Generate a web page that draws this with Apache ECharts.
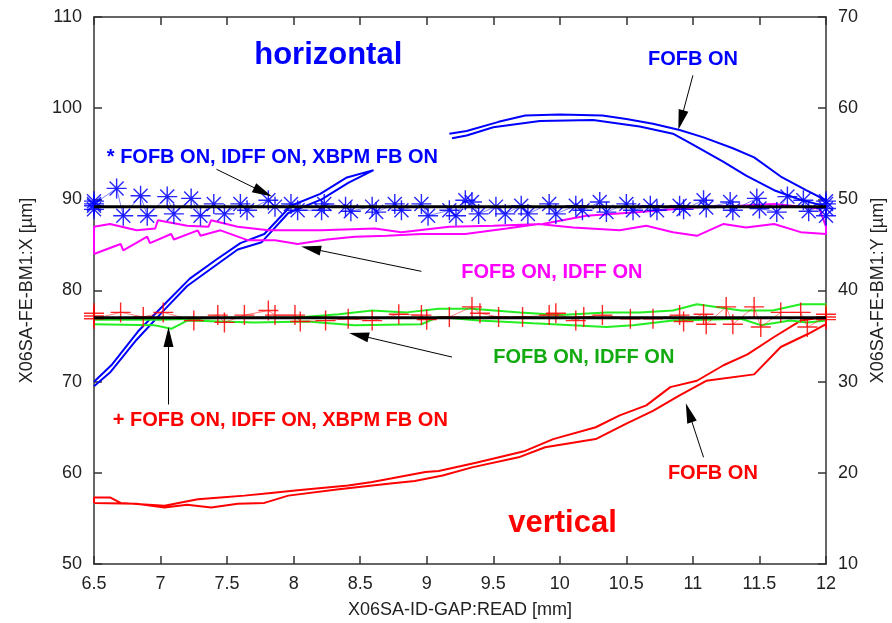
<!DOCTYPE html>
<html>
<head>
<meta charset="utf-8">
<script src="https://cdn.jsdelivr.net/npm/echarts@6/dist/echarts.min.js"></script>
<style>
  html, body { margin: 0; padding: 0; background: #fff; }
  #chart { width: 892px; height: 623px; }
</style>
</head>
<body>
<div id="chart"></div>
<script>
// horizontal plane (left axis, X [um])
const hFofbX = [6.5, 6.62, 6.82, 7.03, 7.2, 7.4, 7.58, 7.76, 7.96, 8.21, 8.41, 8.6,
  8.59, 8.4, 8.2, 7.98, 7.78, 7.6, 7.42, 7.22, 7.05, 6.83, 6.63, 6.5, null,
  9.17, 9.3, 9.54, 9.74, 10.0, 10.32, 10.5, 10.7, 10.9, 11.08, 11.3, 11.46, 11.66, 11.85, 12.0,
  12.0, 11.8, 11.61, 11.4, 11.23, 11.0, 10.85, 10.6, 10.25, 9.85, 9.5, 9.3, 9.19]
const hFofbY = [69.5, 71.0, 74.6, 77.9, 80.5, 82.6, 84.5, 85.3, 88.5, 90.0, 91.8, 93.2,
  93.1, 92.4, 90.6, 89.3, 86.2, 85.2, 83.4, 81.3, 78.8, 75.5, 71.8, 70.0, null,
  97.2, 97.5, 98.5, 99.2, 99.3, 99.2, 98.8, 98.3, 97.6, 96.8, 95.6, 94.6, 92.5, 91.0, 89.9,
  89.2, 90.0, 91.0, 92.6, 94.1, 96.0, 97.2, 98.0, 98.7, 98.6, 97.9, 97.0, 96.7]

const hIdffX = [6.5, 6.7, 6.72, 6.9, 6.92, 7.08, 7.1, 7.28, 7.3, 7.45, 7.66, 7.86, 8.03, 8.25,
  8.46, 8.7, 8.96, 9.29, 9.6, 9.84, 10.1, 10.45, 10.65, 10.85, 11.03, 11.23, 11.4, 11.61, 11.81, 12.0,
  12.0, 11.95, 11.61, 11.35, 11.1, 10.85, 10.6, 10.2, 9.87, 9.5, 9.17, 8.81, 8.61, 8.21, 7.81,
  7.58, 7.38, 7.36, 7.2, 6.98, 6.96, 6.82, 6.62, 6.5, 6.5]
const hIdffY = [84.0, 85.1, 84.4, 85.9, 85.2, 86.2, 85.6, 86.6, 86.0, 86.6, 85.5, 85.5, 85.1, 85.6,
  85.9, 86.0, 86.2, 86.2, 86.8, 87.3, 86.9, 86.6, 87.1, 86.4, 86.0, 87.3, 86.9, 87.3, 86.4, 86.2,
  87.0, 89.0, 89.5, 89.3, 89.2, 88.9, 88.6, 88.2, 87.3, 87.1, 87.0, 86.4, 86.8, 86.6, 86.6,
  87.0, 87.7, 87.0, 87.1, 87.7, 86.8, 86.6, 87.3, 87.0, 84.0]

const hXbpmX = [6.5, 6.5, 6.5, 6.5, 6.67, 6.72, 6.85, 6.9, 7.05, 7.1, 7.23, 7.3, 7.4, 7.48, 7.6, 7.65,
  7.81, 7.86, 7.98, 8.03, 8.21, 8.23, 8.39, 8.43, 8.59, 8.62, 8.76, 8.81, 8.96, 9.01, 9.17, 9.22,
  9.29, 9.34, 9.39, 9.52, 9.59, 9.71, 9.76, 9.92, 9.97, 10.12, 10.17, 10.3, 10.35, 10.5, 10.55,
  10.68, 10.73, 10.9, 10.93, 11.08, 11.1, 11.28, 11.3, 11.48, 11.5, 11.63, 11.71, 11.83, 11.87,
  12.0, 12.0, 12.0, 12.0]
const hXbpmY = [89.3, 89.8, 88.9, 89.5, 91.2, 88.2, 90.4, 88.2, 90.3, 88.4, 90.1, 88.2, 89.5, 88.4, 89.5, 88.8,
  89.9, 89.2, 89.5, 88.8, 88.8, 89.5, 89.2, 88.7, 89.2, 88.6, 89.5, 88.8, 89.5, 88.2, 88.8, 88.2,
  89.9, 89.7, 88.4, 89.2, 88.4, 89.3, 88.4, 89.5, 88.4, 89.3, 88.8, 89.7, 88.6, 89.5, 88.8,
  89.3, 88.8, 89.3, 88.9, 89.9, 89.1, 89.7, 88.8, 90.1, 89.0, 88.6, 90.3, 89.9, 88.7,
  89.5, 88.2, 89.0, 89.8]

// vertical plane (right axis, Y [um])
const vFofbX = [6.5, 6.82, 7.03, 7.2, 7.38, 7.58, 7.78, 7.96, 8.34, 8.71, 8.91, 9.12, 9.34, 9.69,
  9.89, 10.27, 10.5, 10.7, 10.9, 11.1, 11.46, 11.66, 11.86, 12.0,
  12.0, 11.81, 11.61, 11.41, 11.23, 11.03, 10.83, 10.65, 10.45, 10.27, 9.95, 9.74, 9.37, 9.09,
  8.99, 8.74, 8.59, 8.41, 8.03, 7.83, 7.63, 7.45, 7.28, 7.03, 6.7, 6.62, 6.5, 6.5]
const vFofbY = [16.7, 16.6, 16.2, 16.5, 16.2, 16.6, 16.7, 17.5, 18.2, 18.8, 19.1, 19.7, 20.6, 21.7,
  22.8, 23.7, 25.4, 26.8, 28.5, 30.1, 30.8, 33.8, 35.2, 36.3,
  37.1, 36.7, 34.9, 33.0, 31.8, 30.1, 29.4, 27.4, 26.3, 25.0, 23.7, 22.4, 21.1, 20.2,
  20.1, 19.4, 19.0, 18.6, 18.1, 17.8, 17.5, 17.3, 17.1, 16.4, 16.7, 17.3, 17.3, 16.7]

const vIdffX = [6.5, 6.95, 7.08, 7.2, 7.7, 8.1, 8.46, 8.96, 9.09, 9.39, 9.8, 10.35, 10.55, 10.85,
  11.1, 11.36, 11.51, 11.73, 11.86, 12.0,
  12.0, 11.81, 11.6, 11.36, 11.03, 10.85, 10.6, 10.35, 10.0, 9.7, 9.34, 9.29, 9.09, 8.85, 8.59,
  8.34, 8.0, 7.5, 7.0, 6.5]
const vIdffY = [36.3, 36.2, 35.8, 36.7, 36.5, 36.6, 36.2, 36.3, 37.1, 36.7, 36.4, 36.0, 36.2, 36.7,
  36.8, 36.9, 36.2, 36.7, 36.5, 36.7,
  38.5, 38.5, 37.8, 37.8, 38.5, 37.8, 37.6, 37.6, 37.3, 37.6, 38.0, 38.0, 38.0, 37.6, 37.8,
  37.4, 37.0, 37.0, 36.8, 36.8]

const vXbpmX = [6.5, 6.5, 6.5, 6.7, 6.87, 7.02, 7.25, 7.43, 7.48, 7.63, 7.81, 7.86, 8.01, 8.05, 8.24,
  8.41, 8.59, 8.79, 8.96, 9.0, 9.17, 9.34, 9.4, 9.54, 9.72, 9.92, 9.97, 10.12, 10.18, 10.32,
  10.53, 10.7, 10.9, 10.93, 11.08, 11.1, 11.25, 11.3, 11.46, 11.51, 11.66, 11.81, 11.86,
  12.0, 12.0, 12.0]
const vXbpmY = [37.2, 37.5, 36.9, 37.6, 37.1, 37.6, 36.7, 37.3, 36.5, 37.3, 37.8, 37.3, 37.3, 36.6, 36.7,
  36.9, 36.7, 37.4, 37.3, 36.8, 37.1, 38.2, 37.5, 37.1, 37.1, 37.3, 37.5, 36.7, 37.1, 37.3,
  36.9, 36.9, 37.3, 36.6, 37.4, 36.3, 38.2, 36.3, 38.2, 36.0, 37.6, 37.6, 36.0,
  37.1, 37.4, 36.8]

// reference (mean) lines
const refX = [6.5, 12]
const hRefY = [89.2, 89.2]
const vRefY = [37.0, 37.0]

// x ticks
const xMin = 6.5, xMax = 12, xStep = 0.5

// annotations (left axis units)
const noteText = ['horizontal', 'FOFB ON', '* FOFB ON, IDFF ON, XBPM FB ON', 'FOFB ON, IDFF ON',
  'FOFB ON, IDFF ON', '+ FOFB ON, IDFF ON, XBPM FB ON', 'FOFB ON', 'vertical']
const noteX = [8.26, 11.0, 7.84, 9.94, 10.18, 7.9, 11.15, 10.02]
const noteY = [105.8, 105.3, 94.6, 82.0, 72.6, 65.7, 59.9, 54.5]
const arrowFrom = [[11.0, 103.6], [7.42, 93.3], [8.96, 82.1], [9.19, 72.7], [7.06, 67.5], [11.08, 61.7]]
const arrowTo = [[10.91, 98.7], [7.77, 90.8], [8.13, 84.6], [8.49, 75.1], [7.06, 74.9], [10.97, 66.6]]

const BLUE = '#0000ff'
const RED = '#ff0000'
const MAGENTA = '#ff00ff'
const GREEN = '#22ee22'
const FONT = "'Liberation Sans', Arial, sans-serif"
const STAR = 'path://M10 0 L10 20 M0 10 L20 10 M3 3 L17 17 M3 17 L17 3'
const CROSS = 'path://M10 0 L10 20 M0 10 L20 10'

const noteColor = [BLUE, BLUE, BLUE, MAGENTA, '#11aa11', RED, RED, RED]
const noteSize = [31, 20, 20, 20, 20, 20, 20, 31]

function zip(xs, ys) {
  return xs.map((x, i) => (x === null ? [null, null] : [x, ys[i]]))
}

function curve(name, xs, ys, color, axis) {
  return {
    name, type: 'line', yAxisIndex: axis, data: zip(xs, ys),
    showSymbol: false, connectNulls: false,
    lineStyle: { color, width: 2 }, z: 3,
  }
}

function marks(name, xs, ys, color, axis, symbol) {
  return {
    name, type: 'line', yAxisIndex: axis, data: zip(xs, ys),
    symbol, symbolSize: 20, showSymbol: true, showAllSymbol: true,
    lineStyle: { color, width: 1, opacity: 0.5 },
    itemStyle: { color, borderColor: color, borderWidth: 1.4, opacity: 0.85 },
    z: 4,
  }
}

const axisLine = { show: true, lineStyle: { color: '#333', width: 1.5 } }
const axisTick = { show: true, inside: true, length: 8, lineStyle: { color: '#333', width: 1.5 } }
const axisLabel = { color: '#222', fontSize: 18, fontFamily: FONT }
const nameStyle = { color: '#222', fontSize: 18, fontFamily: FONT }

const chart = echarts.init(document.getElementById('chart'))
chart.setOption({
  animation: false,
  grid: { left: 94, right: 66, top: 17, bottom: 59, outerBoundsMode: 'none', containLabel: false },
  xAxis: [
    {
      type: 'value', min: xMin, max: xMax, interval: xStep, position: 'bottom',
      name: 'X06SA-ID-GAP:READ [mm]', nameLocation: 'middle', nameGap: 37, nameTextStyle: nameStyle,
      axisLine, axisTick, axisLabel: { ...axisLabel, margin: 11 }, splitLine: { show: false },
    },
    {
      type: 'value', min: xMin, max: xMax, interval: xStep, position: 'top',
      axisLine, axisTick, axisLabel: { show: false }, splitLine: { show: false },
    },
  ],
  yAxis: [
    {
      type: 'value', min: 50, max: 110, interval: 10, position: 'left',
      name: 'X06SA-FE-BM1:X [µm]', nameLocation: 'middle', nameGap: 58, nameTextStyle: nameStyle,
      axisLine, axisTick, axisLabel: { ...axisLabel, margin: 12 }, splitLine: { show: false },
    },
    {
      type: 'value', min: 10, max: 70, interval: 10, position: 'right',
      name: 'X06SA-FE-BM1:Y [µm]', nameLocation: 'middle', nameGap: 41, nameTextStyle: nameStyle,
      axisLine, axisTick, axisLabel: { ...axisLabel, margin: 12 }, splitLine: { show: false },
    },
  ],
  series: [
    curve('h FOFB', hFofbX, hFofbY, BLUE, 0),
    curve('h FOFB IDFF', hIdffX, hIdffY, MAGENTA, 0),
    curve('v FOFB', vFofbX, vFofbY, RED, 1),
    curve('v FOFB IDFF', vIdffX, vIdffY, GREEN, 1),
    marks('h XBPM', hXbpmX, hXbpmY, BLUE, 0, STAR),
    marks('v XBPM', vXbpmX, vXbpmY, RED, 1, CROSS),
    {
      name: 'h ref', type: 'line', yAxisIndex: 0, data: zip(refX, hRefY),
      showSymbol: false, lineStyle: { color: '#000', width: 3 }, z: 5,
    },
    {
      name: 'v ref', type: 'line', yAxisIndex: 1, data: zip(refX, vRefY),
      showSymbol: false, lineStyle: { color: '#000', width: 3 }, z: 5,
    },
    {
      name: 'notes', type: 'scatter', yAxisIndex: 0, symbolSize: 0, silent: true, z: 6,
      itemStyle: { opacity: 1 },
      data: noteText.map((t, i) => ({
        value: [noteX[i], noteY[i]],
        label: {
          show: true, position: 'inside', formatter: t,
          color: noteColor[i], fontSize: noteSize[i], fontWeight: 'bold', fontFamily: FONT,
        },
      })),
      markLine: {
        silent: true, animation: false,
        lineStyle: { color: '#000', width: 1, type: 'solid' },
        label: { show: false },
        data: arrowFrom.map((p, i) => [
          { coord: p, symbol: 'none' },
          { coord: arrowTo[i], symbol: 'triangle', symbolSize: [10, 20] },
        ]),
      },
    },
  ],
})
</script>
</body>
</html>
